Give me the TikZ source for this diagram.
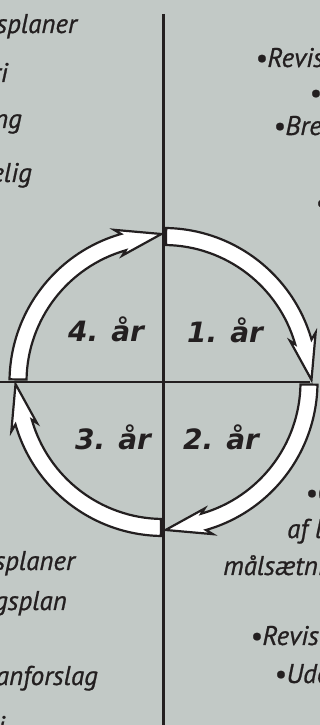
\documentclass[tikz,border=0pt]{standalone}
\usepackage{fontspec}
\setmainfont{PT Sans}
\newfontfamily\bodyfont{PT Sans}[ItalicFeatures={FakeBold=0.8}]
\newfontfamily\yearfont{DejaVu Sans}
\definecolor{bg}{RGB}{194,201,198}
\definecolor{ink}{RGB}{35,31,32}
\newcommand\yeararrow[1]{%
  \draw[ring] ({#1-1}:154) arc[start angle={#1-1}, end angle={#1-74}, radius=154]
    -- ({#1-72}:160) -- ({#1-89.2}:148) -- ({#1-72}:133) -- ({#1-74}:137)
    arc[start angle={#1-74}, end angle={#1-1}, radius=137] -- cycle;}
\begin{document}
\begin{tikzpicture}[x=1pt,y=1pt,
  txt/.style={font=\fontsize{27}{30}\bodyfont\itshape, text=ink, inner sep=0pt},
  lefttxt/.style={txt, anchor=base east},
  righttxt/.style={txt, anchor=base west},
  lbl/.style={font=\fontsize{28}{32}\yearfont\bfseries\itshape, text=ink, inner sep=0pt, anchor=base west},
  axisline/.style={draw=ink, line width=2.5pt},
  ring/.style={draw=ink, fill=white, line width=2.2pt, line join=miter}]
\fill[bg] (0,0) rectangle (320,725);
\useasboundingbox (0,0) rectangle (320,725);
% axes
\coordinate (vtop) at (163.5,711);
\coordinate (vbot) at (163.5,0);
\coordinate (hl) at (0,343);
\coordinate (hr) at (310,343);
\draw[axisline] (vtop) -- (vbot);
\draw[axisline] (hl) -- (hr);
% cycle arrows
\begin{scope}[shift={(163.5,343)}]
  \yeararrow{90}
  \yeararrow{0}
  \yeararrow{-90}
  \yeararrow{-180}
\end{scope}
% year labels
\node[lbl] (y1) at (187,382) {1. år};
\node[lbl] (y2) at (183,275) {2. år};
\node[lbl] (y3) at (75,275) {3. år};
\node[lbl] (y4) at (68,383) {4. år};
% left texts
\node[lefttxt] (l1) at (77,692) {splaner};
\node[lefttxt] (l2) at (8,643) {ri};
\node[lefttxt] (l3) at (22,597) {ng};
\node[lefttxt] (l4) at (32,543) {elig};
\node[lefttxt] (l5) at (75,155) {splaner};
\node[lefttxt] (l6) at (67,115) {gsplan};
\node[lefttxt] (l7) at (98,40) {anforslag};
\node[lefttxt] (l8) at (5,-10) {i};
% right texts
\node[righttxt] (r1) at (255,658) {\textbullet Revis};
\node[righttxt] (r2) at (309,623) {\textbullet A};
\node[righttxt] (r3) at (273,590) {\textbullet Bre};
\node[righttxt] (r4) at (315,513) {\textbullet};
\node[righttxt] (r5) at (305,223) {\textbullet C};
\node[righttxt] (r6) at (287,187) {af l};
\node[righttxt] (r7) at (223,150) {målsætni};
\node[righttxt] (r8) at (250,80) {\textbullet Revisi};
\node[righttxt] (r9) at (274,42) {\textbullet Ude};
\end{tikzpicture}
\end{document}
